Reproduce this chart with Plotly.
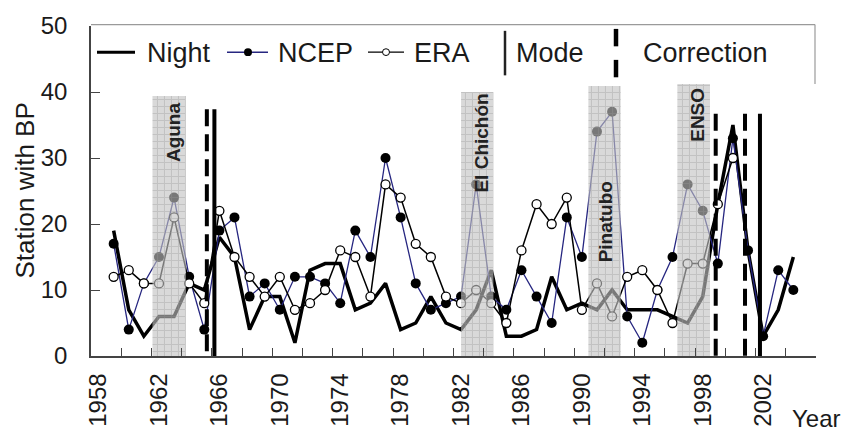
import plotly.graph_objects as go

# ---------------- data ----------------
years = list(range(1959, 2005))
night = [19, 7, 3, 6, 6, 11, 10, 18, 15, 4,
         9, 9, 2, 13, 14, 14, 7, 8, 11, 4,
         5, 9, 5, 4, 7, 13, 3, 3, 4, 12,
         7, 8, 7, 10, 7, 7, 7, 6, 5, 9,
         23, 35, 16, 3, 7, 15]
ncep = [17, 4, 11, 15, 24, 12, 4, 19, 21, 9,
        11, 7, 12, 12, 11, 8, 19, 15, 30, 21,
        11, 7, 8, 9, 26, 9, 7, 13, 9, 5,
        21, 15, 34, 37, 6, 2, 10, 15, 26, 22,
        14, 33, 16, 3, 13, 10]
era_years = list(range(1959, 2001))
era = [12, 13, 11, 11, 21, 11, 8, 22, 15, 12,
       9, 12, 7, 8, 10, 16, 15, 9, 26, 24,
       17, 15, 9, 8, 10, 8, 5, 16, 23, 20,
       24, 7, 11, 6, 12, 13, 10, 5, 14, 14,
       23, 30]

# change points (fractional years) and the height of their marker lines
mode_years = [1965.67, 2001.79]
mode_tops = [37.4, 36.7]
correction_years = [1965.17, 1998.86, 2000.8]
correction_tops = [37.4, 36.7, 36.7]

# volcanic / ENSO episodes
event_names = ["Aguna", "El Chichón", "Pinatubo", "ENSO"]
event_start = [1961.57, 1982.0, 1990.43, 1996.32]
event_end = [1963.78, 1984.14, 1992.57, 1998.48]
event_top = [39.4, 40.0, 40.9, 41.2]

tick_years = list(range(1958, 2003, 4))

# ---------------- figure ----------------
FONT = "Liberation Sans, Arial, Helvetica, sans-serif"
W, H = 842, 439
ML, MR, MT, MB = 91, 26, 22, 76
PW, PH = W - ML - MR, H - MT - MB


def X(px):
    return (px - ML) / PW


def Y(py):
    return (H - MB - py) / PH


fig = go.Figure()

fig.add_trace(go.Scatter(x=years, y=night, mode="lines",
                         line=dict(color="black", width=3.5),
                         name="Night", showlegend=False))
fig.add_trace(go.Scatter(x=years, y=ncep, mode="lines+markers",
                         line=dict(color="#262680", width=1.3),
                         marker=dict(color="black", size=10),
                         name="NCEP", showlegend=False))
fig.add_trace(go.Scatter(x=era_years, y=era, mode="lines+markers",
                         line=dict(color="black", width=1.5),
                         marker=dict(color="white", size=9,
                                     line=dict(color="black", width=1.3)),
                         name="ERA", showlegend=False))

# vertical markers for mode and correction change points
mx, my = [], []
for xv, top in zip(mode_years, mode_tops):
    mx += [xv, xv, None]
    my += [top, 0, None]
fig.add_trace(go.Scatter(x=mx, y=my, mode="lines",
                         line=dict(color="black", width=4),
                         name="Mode", showlegend=False))
cx, cy = [], []
for xv, top in zip(correction_years, correction_tops):
    cx += [xv, xv, None]
    cy += [top, 0, None]
fig.add_trace(go.Scatter(x=cx, y=cy, mode="lines",
                         line=dict(color="black", width=4, dash="17px,8px"),
                         name="Correction", showlegend=False))

# translucent gridded bands laid over the series
for s, e, t in zip(event_start, event_end, event_top):
    fig.add_trace(go.Scatter(
        x=[s, e, e, s, s], y=[0, 0, t, t, 0], mode="lines",
        line=dict(width=0), fill="toself",
        fillcolor="rgba(193,193,193,0.62)",
        fillpattern=dict(shape="+", size=7, solidity=0.27,
                         fillmode="replace",
                         bgcolor="rgba(193,193,193,0.62)",
                         fgcolor="rgba(150,150,150,0.35)"),
        hoverinfo="skip", showlegend=False))

annotations = []
# band labels
label_pos = [(1962.96, 34.0), (1983.37, 32.3), (1991.53, 20.4), (1997.6, 36.5)]
for name, (lx, ly) in zip(event_names, label_pos):
    annotations.append(dict(x=lx, y=ly, xref="x", yref="y", text=f"<b>{name}</b>",
                            textangle=-90, showarrow=False,
                            font=dict(family=FONT, size=19, color="#222"),
                            xanchor="center", yanchor="middle"))

# hand-built legend row
leg_y = 49
shapes = []
shapes.append(dict(type="line", xref="paper", yref="paper",
                   x0=X(97), x1=X(135), y0=Y(leg_y), y1=Y(leg_y),
                   line=dict(color="black", width=3)))
shapes.append(dict(type="line", xref="paper", yref="paper",
                   x0=X(227), x1=X(268), y0=Y(leg_y), y1=Y(leg_y),
                   line=dict(color="#262680", width=1.5)))
shapes.append(dict(type="circle", xref="paper", yref="paper",
                   x0=X(244), x1=X(252), y0=Y(leg_y + 4), y1=Y(leg_y - 4),
                   fillcolor="black", line=dict(color="black", width=0)))
shapes.append(dict(type="line", xref="paper", yref="paper",
                   x0=X(368), x1=X(404), y0=Y(leg_y), y1=Y(leg_y),
                   line=dict(color="black", width=1.3)))
shapes.append(dict(type="circle", xref="paper", yref="paper",
                   x0=X(382.5), x1=X(389.5), y0=Y(leg_y + 3.5), y1=Y(leg_y - 3.5),
                   fillcolor="white", line=dict(color="black", width=1)))
shapes.append(dict(type="line", xref="paper", yref="paper",
                   x0=X(505), x1=X(505), y0=Y(73), y1=Y(27),
                   line=dict(color="#222", width=2.5)))
shapes.append(dict(type="line", xref="paper", yref="paper",
                   x0=X(616), x1=X(616), y0=Y(25), y1=Y(43),
                   line=dict(color="black", width=4.5)))
shapes.append(dict(type="line", xref="paper", yref="paper",
                   x0=X(616), x1=X(616), y0=Y(57), y1=Y(75),
                   line=dict(color="black", width=4.5)))
# legend frame (top and right edges)
shapes.append(dict(type="line", xref="paper", yref="paper",
                   x0=X(91), x1=X(815), y0=Y(20.5), y1=Y(20.5),
                   line=dict(color="#9a9a9a", width=1.2)))
shapes.append(dict(type="line", xref="paper", yref="paper",
                   x0=X(815), x1=X(815), y0=Y(20.5), y1=Y(82),
                   line=dict(color="#9a9a9a", width=1.2)))

for txt, px in [("Night", 145), ("NCEP", 276), ("ERA", 412),
                ("Mode", 514), ("Correction", 641)]:
    annotations.append(dict(x=X(px), y=Y(leg_y + 1), xref="paper", yref="paper",
                            text=txt, showarrow=False, xanchor="left",
                            yanchor="middle",
                            font=dict(family=FONT, size=27, color="#1a1a1a")))

annotations.append(dict(x=X(790), y=Y(428), xref="paper", yref="paper",
                        text="Year", showarrow=False, xanchor="left",
                        yanchor="middle",
                        font=dict(family=FONT, size=24, color="#1a1a1a")))

# y-axis title
annotations.append(dict(x=X(25), y=Y(192), xref="paper", yref="paper",
                        text="Station with BP", showarrow=False, textangle=-90,
                        xanchor="center", yanchor="middle",
                        font=dict(family=FONT, size=26, color="#1a1a1a")))

fig.update_layout(
    width=W, height=H,
    margin=dict(l=ML, r=MR, t=MT, b=MB, pad=0),
    paper_bgcolor="white", plot_bgcolor="white",
    font=dict(family=FONT, size=24, color="#1a1a1a"),
    shapes=shapes, annotations=annotations,
    xaxis=dict(range=[1957.5, 2005.5], showgrid=False, zeroline=False,
               showline=True, linecolor="#444", linewidth=1.5,
               tickmode="array", tickvals=tick_years,
               ticktext=[str(y) for y in tick_years],
               tickangle=-90, ticks="", ticklabelstandoff=6,
               tickfont=dict(size=24),
               minor=dict(tickmode="array",
                          tickvals=[y + 0.5 for y in range(1959, 2005, 2)],
                          ticks="inside", ticklen=8, tickcolor="#444",
                          tickwidth=1, showgrid=False)),
    yaxis=dict(range=[0, 50], showgrid=False, zeroline=False,
               showline=True, linecolor="#444", linewidth=1.5,
               tickmode="array", tickvals=[0, 10, 20, 30, 40, 50],
               ticks="inside", ticklen=9, tickcolor="#444", tickwidth=1,
               ticklabelstandoff=17, tickfont=dict(size=24)),
)

fig.write_html("out.html")
